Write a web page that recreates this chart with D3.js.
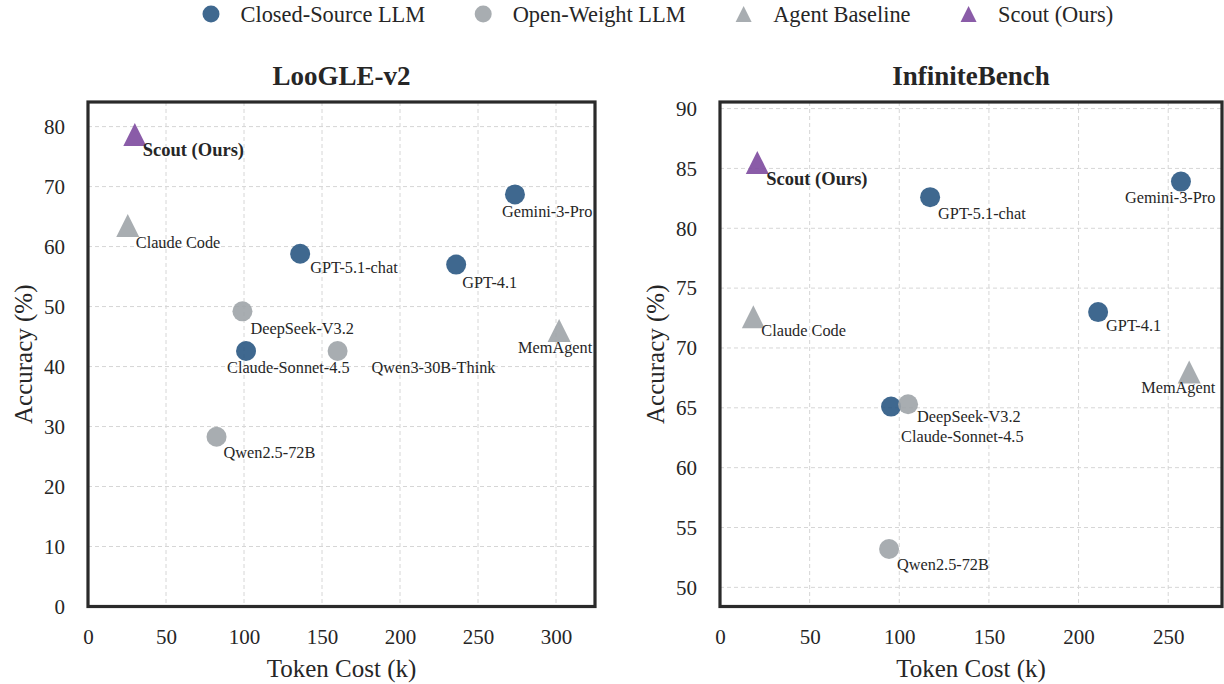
<!DOCTYPE html>
<html>
<head>
<meta charset="utf-8">
<script src="https://cdn.jsdelivr.net/npm/d3@7"></script>
<style>
  body { margin: 0; background: #fff; }
  svg { font-family: "Liberation Serif", "Times New Roman", serif; }
  .grid line { stroke: #d6d6d6; stroke-width: 1; stroke-dasharray: 4,3; }
</style>
</head>
<body>
<svg id="chart" width="1224" height="684"></svg>
<script>
// model names and groups
var models = ['Scout (Ours)', 'Claude Code', 'MemAgent', 'Gemini-3-Pro', 'GPT-5.1-chat', 'GPT-4.1',
  'Claude-Sonnet-4.5', 'DeepSeek-V3.2', 'Qwen3-30B-Think', 'Qwen2.5-72B'];
var groups = ['Scout (Ours)', 'Agent Baseline', 'Agent Baseline', 'Closed-Source LLM', 'Closed-Source LLM',
  'Closed-Source LLM', 'Closed-Source LLM', 'Open-Weight LLM', 'Open-Weight LLM', 'Open-Weight LLM'];

// LooGLE-v2 values
var loogleCost = [30, 25.5, 302, 273.7, 136, 236, 101.3, 99, 160, 82.4];
var loogleAcc  = [78.7, 63.5, 46, 68.7, 58.8, 57, 42.6, 49.2, 42.6, 28.3];

// InfiniteBench values (no Qwen3-30B-Think)
var infCost = [20.8, 18.6, 261.7, 257.1, 117.2, 210.9, 95.4, 104.9, null, 94.3];
var infAcc  = [85.5, 72.6, 68.0, 83.9, 82.6, 73.0, 65.1, 65.3, null, 53.2];

var legendGroups = ['Closed-Source LLM', 'Open-Weight LLM', 'Agent Baseline', 'Scout (Ours)'];

var loogleXTicks = [0, 50, 100, 150, 200, 250, 300];
var loogleYTicks = [0, 10, 20, 30, 40, 50, 60, 70, 80];
var infXTicks = [0, 50, 100, 150, 200, 250];
var infYTicks = [50, 55, 60, 65, 70, 75, 80, 85, 90];

// styles per group
var colors = {'Closed-Source LLM': '#2a5883', 'Open-Weight LLM': '#9fa4a8', 'Agent Baseline': '#9fa4a8', 'Scout (Ours)': '#7d4a9f'};
var drawOrder = {'Closed-Source LLM': 0, 'Open-Weight LLM': 1, 'Agent Baseline': 2, 'Scout (Ours)': 3};

// matplotlib style '^' : as wide as it is tall
var triUp = {
  draw: function(ctx, size) {
    var r = Math.sqrt(size) / 2;
    ctx.moveTo(0, -r); ctx.lineTo(r, r); ctx.lineTo(-r, r); ctx.closePath();
  }
};
function isTri(group) { return group === 'Agent Baseline' || group === 'Scout (Ours)'; }
function symbolPath(group, big) {
  if (isTri(group)) return d3.symbol().type(triUp).size(big ? 23 * 23 : 16 * 16)();
  return d3.symbol().type(d3.symbolCircle).size(big ? Math.PI * 100 : Math.PI * 72)();
}

// label offsets (px from marker centre to text start / text middle)
var loogleLabelPos = [[8, 16], [8, 16.5], [-41, 17], [-13, 17], [10, 14], [6, 18], [-19, 17], [8, 17], [34, 17], [7, 16]];
var infLabelPos = [[9, 17], [8, 14], [-48, 15.5], [-56, 16], [8, 16], [8, 13], [10, 29.5], [9, 12.5], null, [8, 15]];

var svg = d3.select('#chart');
var textColor = '#262626';

function drawPanel(opt) {
  var x = d3.scaleLinear().domain(opt.xDomain).range([opt.left, opt.right]);
  var y = d3.scaleLinear().domain(opt.yDomain).range([opt.bottom, opt.top]);
  var g = svg.append('g');

  g.append('clipPath').attr('id', opt.id + '-clip')
    .append('rect')
    .attr('x', opt.left).attr('y', opt.top)
    .attr('width', opt.right - opt.left).attr('height', opt.bottom - opt.top);

  // grid
  var grid = g.append('g').attr('class', 'grid');
  grid.selectAll('.vx').data(opt.xTicks).enter().append('line')
    .attr('x1', function(d) { return x(d); }).attr('x2', function(d) { return x(d); })
    .attr('y1', opt.top).attr('y2', opt.bottom);
  grid.selectAll('.hy').data(opt.yTicks).enter().append('line')
    .attr('x1', opt.left).attr('x2', opt.right)
    .attr('y1', function(d) { return y(d); }).attr('y2', function(d) { return y(d); });

  // tick labels via axes, tick lines hidden
  var xAxis = d3.axisBottom(x).tickValues(opt.xTicks).tickSize(0).tickPadding(22.5);
  var yAxis = d3.axisLeft(y).tickValues(opt.yTicks).tickSize(0).tickPadding(23);
  var xa = g.append('g').attr('transform', 'translate(0,' + opt.bottom + ')').call(xAxis);
  var ya = g.append('g').attr('transform', 'translate(' + opt.left + ',0)').call(yAxis);
  [xa, ya].forEach(function(a) {
    a.select('.domain').remove();
    a.selectAll('text').attr('fill', textColor)
      .style('font-family', '"Liberation Serif", serif').style('font-size', '21px');
  });

  // points
  var pts = [];
  for (var i = 0; i < models.length; i++) {
    if (opt.cost[i] == null) continue;
    pts.push({name: models[i], group: groups[i], cx: opt.cost[i], cy: opt.acc[i], lp: opt.labelPos[i]});
  }
  pts.sort(function(a, b) { return drawOrder[a.group] - drawOrder[b.group]; });

  var inner = g.append('g').attr('clip-path', 'url(#' + opt.id + '-clip)');
  inner.selectAll('.pt').data(pts).enter().append('path')
    .attr('d', function(d) { return symbolPath(d.group, true); })
    .attr('transform', function(d) { return 'translate(' + x(d.cx) + ',' + y(d.cy) + ')'; })
    .attr('fill', function(d) { return colors[d.group]; })
    .attr('fill-opacity', 0.9);

  inner.selectAll('.lbl').data(pts).enter().append('text')
    .attr('x', function(d) { return x(d.cx) + d.lp[0]; })
    .attr('y', function(d) { return y(d.cy) + d.lp[1]; })
    .attr('dominant-baseline', 'central')
    .attr('fill', textColor)
    .style('font-weight', function(d) { return d.group === 'Scout (Ours)' ? 'bold' : 'normal'; })
    .style('font-size', function(d) { return d.group === 'Scout (Ours)' ? '18.5px' : '16.3px'; })
    .text(function(d) { return d.name; });

  // frame
  g.append('rect')
    .attr('x', opt.left).attr('y', opt.top)
    .attr('width', opt.right - opt.left).attr('height', opt.bottom - opt.top)
    .attr('fill', 'none').attr('stroke', '#2a2a2a').attr('stroke-width', 3.2);

  // title and axis labels
  g.append('text')
    .attr('x', (opt.left + opt.right) / 2).attr('y', 85)
    .attr('text-anchor', 'middle')
    .style('font-size', '27px').style('font-weight', 'bold').attr('fill', textColor)
    .text(opt.title);
  g.append('text')
    .attr('x', (opt.left + opt.right) / 2).attr('y', 677)
    .attr('text-anchor', 'middle')
    .style('font-size', '25px').attr('fill', textColor)
    .text('Token Cost (k)');
  g.append('text')
    .attr('transform', 'translate(' + (opt.left - 56) + ',' + ((opt.top + opt.bottom) / 2) + ') rotate(-90)')
    .attr('text-anchor', 'middle')
    .style('font-size', '25px').attr('fill', textColor)
    .text('Accuracy (%)');
}

drawPanel({
  id: 'loogle', title: 'LooGLE-v2', left: 88, right: 595, top: 102, bottom: 606.5,
  xDomain: [0, 325], yDomain: [0, 84.1],
  xTicks: loogleXTicks, yTicks: loogleYTicks,
  cost: loogleCost, acc: loogleAcc, labelPos: loogleLabelPos
});

drawPanel({
  id: 'inf', title: 'InfiniteBench', left: 720, right: 1222, top: 102, bottom: 606.5,
  xDomain: [0, 280], yDomain: [48.4, 90.55],
  xTicks: infXTicks, yTicks: infYTicks,
  cost: infCost, acc: infAcc, labelPos: infLabelPos
});

// legend
var legend = svg.append('g');
var lx = 211;
legendGroups.forEach(function(grp) {
  var item = legend.append('g').attr('transform', 'translate(' + lx + ',14)');
  item.append('path')
    .attr('d', symbolPath(grp, false))
    .attr('fill', colors[grp]).attr('fill-opacity', 0.9);
  var t = item.append('text')
    .attr('x', 29.5).attr('y', 0)
    .attr('dominant-baseline', 'central')
    .style('font-size', '22.4px').attr('fill', textColor)
    .text(grp);
  lx += 29.5 + t.node().getComputedTextLength() + 58;
});
</script>
</body>
</html>
